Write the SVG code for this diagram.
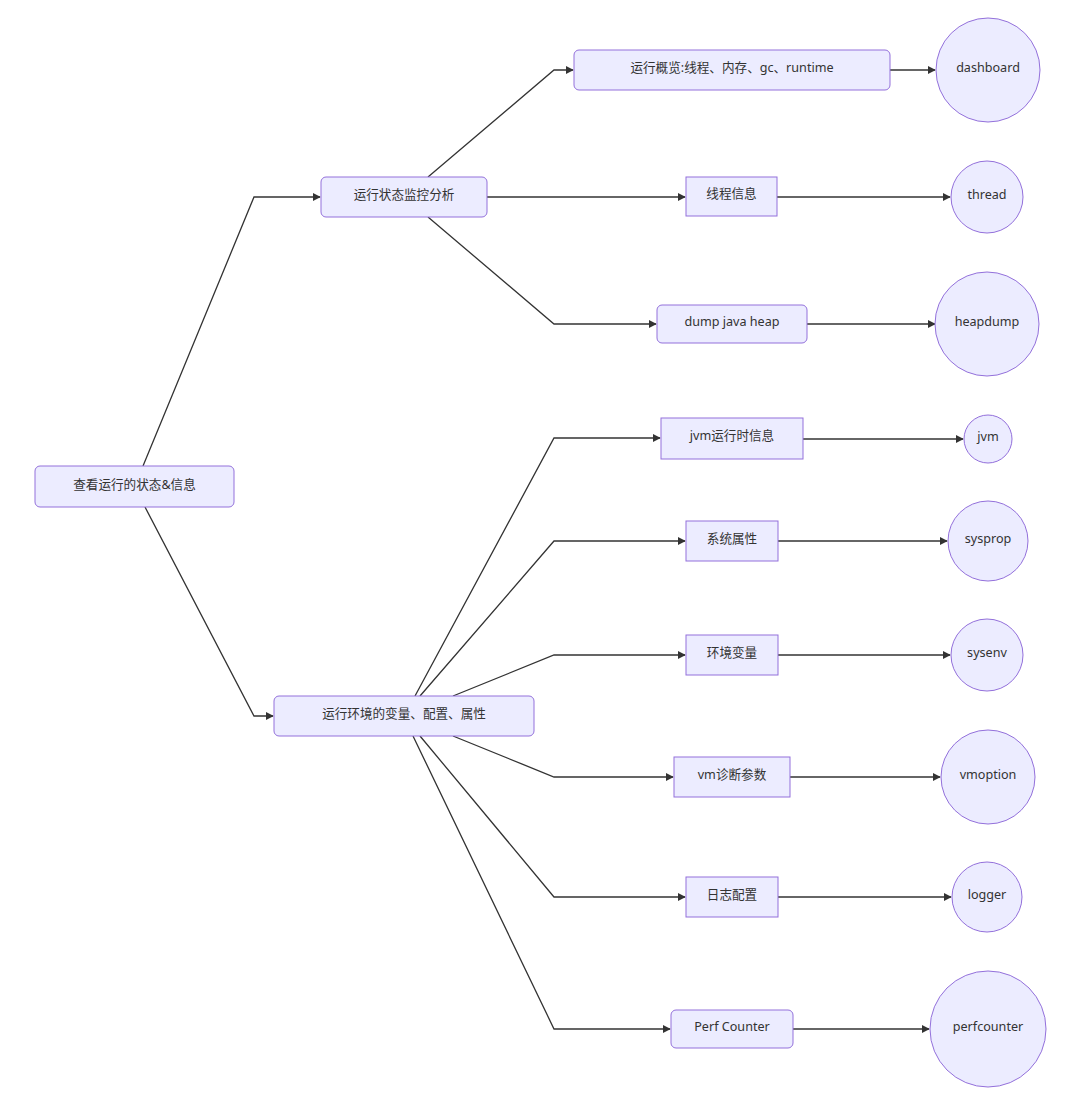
<svg xmlns="http://www.w3.org/2000/svg" width="1080" height="1095" viewBox="0 0 1080 1095">
<defs>
<marker id="arr" viewBox="0 0 10 10" refX="9" refY="5" markerWidth="8" markerHeight="8" markerUnits="userSpaceOnUse" orient="auto">
<path d="M0,0 L10,5 L0,10 z" fill="#333"/>
</marker>
<style>
.n rect, .n circle { fill: #ECECFF; stroke: #9370DB; stroke-width: 1; }
.n text { font-family: "Noto Sans", "Noto Sans CJK SC", sans-serif; font-size: 12.6px; fill: #333; text-anchor: middle; }
.e path { fill: none; stroke: #333; stroke-width: 1.3; marker-end: url(#arr); }
</style>
</defs>
<rect width="1080" height="1095" fill="#fff"/>
<g class="e" id="connectors">
<path d="M143,466 L254,197 L320,197"/>
<path d="M145,507 L254,716 L273,716"/>
<path d="M428,177 L554,70 L573,70"/>
<path d="M487,197 L685,197"/>
<path d="M428,217 L554,324 L656,324"/>
<path d="M415,696 L554,438 L660,438"/>
<path d="M420,696 L554,541 L685,541"/>
<path d="M453,696 L554,655 L685,655"/>
<path d="M453,736 L554,777 L673,777"/>
<path d="M420,736 L554,897 L685,897"/>
<path d="M413,736 L554,1029 L670,1029"/>
<path d="M890,70 L935,70"/>
<path d="M777,197 L950,197"/>
<path d="M807,324 L935,324"/>
<path d="M803,439 L963,439"/>
<path d="M778,541 L947,541"/>
<path d="M778,655 L950,655"/>
<path d="M790,777 L940,777"/>
<path d="M778,897 L951,897"/>
<path d="M793,1029 L929,1029"/>
</g>
<g class="n" id="root"><rect x="35" y="466" width="199" height="41" rx="5"/><text x="134.5" y="489">查看运行的状态&amp;信息</text></g>
<g class="n" id="monitor"><rect x="321" y="177" width="166" height="40" rx="5"/><text x="404" y="199">运行状态监控分析</text></g>
<g class="n" id="env"><rect x="274" y="696" width="260" height="40" rx="5"/><text x="404" y="718">运行环境的变量、配置、属性</text></g>
<g class="n" id="overview"><rect x="574" y="50" width="316" height="40" rx="5"/><text x="732" y="72">运行概览:线程、内存、gc、runtime</text></g>
<g class="n" id="threadinfo"><rect x="686" y="177" width="91" height="39"/><text x="731.5" y="198">线程信息</text></g>
<g class="n" id="dumpheap"><rect x="657" y="305" width="150" height="38" rx="5"/><text x="732" y="326">dump java heap</text></g>
<g class="n" id="jvminfo"><rect x="661" y="418" width="142" height="41"/><text x="732" y="440">jvm运行时信息</text></g>
<g class="n" id="sysattr"><rect x="686" y="521" width="92" height="40"/><text x="732" y="543">系统属性</text></g>
<g class="n" id="envvar"><rect x="686" y="635" width="92" height="40"/><text x="732" y="657">环境变量</text></g>
<g class="n" id="vmdiag"><rect x="674" y="757" width="116" height="40"/><text x="732" y="779">vm诊断参数</text></g>
<g class="n" id="logcfg"><rect x="686" y="877" width="92" height="40"/><text x="732" y="899">日志配置</text></g>
<g class="n" id="perf"><rect x="671" y="1010" width="122" height="38" rx="5"/><text x="732" y="1031">Perf Counter</text></g>
<g class="n" id="dashboard"><circle cx="988" cy="70" r="52"/><text x="988" y="72">dashboard</text></g>
<g class="n" id="thread"><circle cx="987" cy="197" r="36"/><text x="987" y="199">thread</text></g>
<g class="n" id="heapdump"><circle cx="987" cy="324" r="52"/><text x="987" y="326">heapdump</text></g>
<g class="n" id="jvm"><circle cx="988" cy="439" r="24"/><text x="988" y="441">jvm</text></g>
<g class="n" id="sysprop"><circle cx="988" cy="541" r="40"/><text x="988" y="543">sysprop</text></g>
<g class="n" id="sysenv"><circle cx="987" cy="655" r="36"/><text x="987" y="657">sysenv</text></g>
<g class="n" id="vmoption"><circle cx="988" cy="777" r="47"/><text x="988" y="779">vmoption</text></g>
<g class="n" id="logger"><circle cx="987" cy="897" r="35"/><text x="987" y="899">logger</text></g>
<g class="n" id="perfcounter"><circle cx="988" cy="1029" r="58"/><text x="988" y="1031">perfcounter</text></g>
</svg>
